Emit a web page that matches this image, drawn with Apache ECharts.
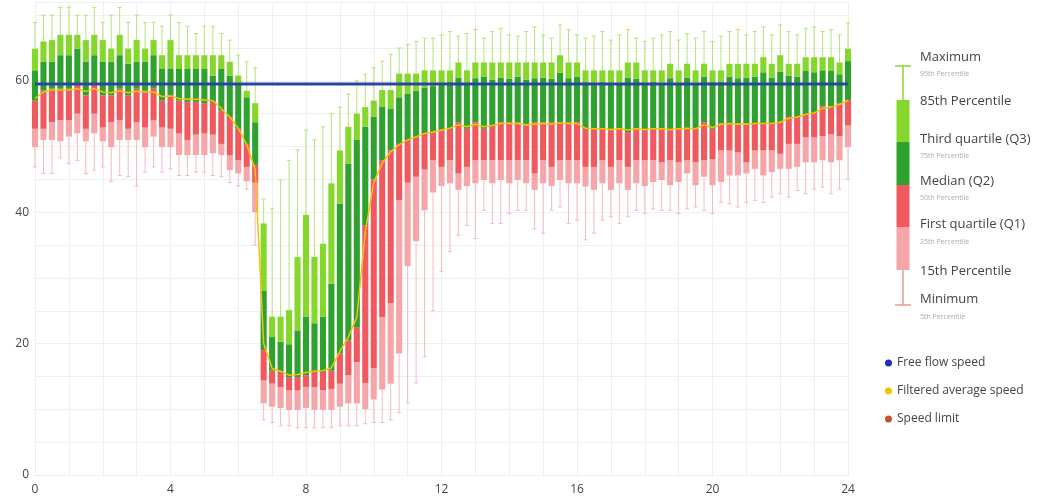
<!DOCTYPE html>
<html>
<head>
<meta charset="utf-8">
<script src="https://cdn.jsdelivr.net/npm/echarts@6/dist/echarts.min.js"></script>
<style>
html,body{margin:0;padding:0;background:#fff;}
#chart{width:1048px;height:501px;}
</style>
</head>
<body>
<div id="chart"></div>
<script>
// ---- DATA (15-minute bins, 0:00 .. 24:00) ----
const p5 = [46.9,45.9,45.9,48.3,47.4,47.9,45.9,46.4,46.9,44.7,45.6,45.4,44.0,46.1,46.9,46.1,46.6,45.6,45.6,46.1,46.1,45.6,45.4,44.5,44.0,43.5,35.0,
  8.4,8.0,7.5,7.5,7.2,7.2,7.2,7.2,7.2,7.5,7.5,7.5,7.8,8.0,8.0,8.4,9.5,11.0,14.0,18.0,25.0,31.0,
  34.0,36.5,38.0,36.0,40.3,38.3,38.3,39.8,40.3,40.3,37.5,36.8,40.3,40.8,38.3,38.8,35.8,36.8,38.8,39.3,38.3,39.3,40.3,39.8,
  40.5,40.3,40.3,39.8,40.5,40.8,40.3,39.8,41.5,41.3,40.8,41.5,41.8,41.5,42.3,42.8,42.3,43.3,42.8,43.5,43.8,42.8,43.5,45.0];
const p15 = [49.9,51.0,51.0,50.8,51.5,52.0,50.8,52.0,50.8,49.9,51.0,51.0,51.0,49.9,51.5,49.9,49.9,48.7,48.7,48.7,48.7,49.0,48.7,46.4,45.9,44.7,40.0,
  10.9,10.4,10.2,9.9,9.9,10.2,9.9,9.9,9.9,10.4,10.9,10.9,10.0,11.5,13.0,13.9,18.5,31.8,35.6,40.3,43.0,44.0,
  44.4,43.4,44.0,44.4,44.9,44.4,44.9,44.4,44.9,44.4,43.4,44.4,44.0,44.9,44.4,44.4,43.9,43.4,44.4,43.4,44.4,43.4,44.4,44.0,
  44.6,44.9,44.1,44.6,45.9,44.1,45.4,44.1,44.6,45.6,45.6,45.9,46.6,45.6,46.1,46.6,46.6,46.9,47.6,47.6,47.9,47.6,47.9,49.9];
const p25 = [52.7,52.7,53.7,54.0,54.0,55.0,52.7,55.0,52.9,53.7,54.0,52.7,53.7,52.9,54.0,52.9,52.7,52.0,51.0,51.8,52.0,51.8,50.4,48.7,47.9,46.9,44.5,
  14.4,13.9,13.4,12.9,12.9,13.4,13.4,12.9,13.1,13.9,15.2,17.2,14.0,16.3,24.0,26.2,41.8,44.5,45.4,46.5,47.9,46.9,
  47.9,45.9,46.9,47.9,47.9,47.9,47.9,47.9,47.9,47.9,45.9,47.9,46.9,47.9,47.9,47.9,46.9,46.9,47.9,46.9,47.9,46.9,47.9,47.9,
  47.9,47.6,47.9,47.6,47.9,47.6,47.9,48.1,49.4,49.4,49.1,47.6,49.4,49.4,49.4,48.9,50.4,50.4,51.4,51.4,51.6,51.9,51.6,53.2];
const p50 = [57.0,58.5,58.8,58.8,58.8,59.6,57.8,59.6,57.8,57.8,58.8,57.8,58.8,58.5,58.8,57.0,57.8,57.0,56.8,56.8,56.6,56.8,55.5,54.5,52.7,50.4,47.2,
  19.0,15.9,15.7,14.9,14.9,15.2,15.7,15.7,15.9,18.5,20.5,22.5,38.0,45.0,47.9,49.4,50.4,51.0,51.4,52.0,52.2,52.5,
  52.7,53.7,52.7,53.7,52.7,53.2,53.7,53.7,53.7,53.2,53.7,53.7,53.7,53.7,53.7,53.7,52.7,52.7,52.7,52.5,52.7,52.2,52.7,52.5,
  52.7,52.7,52.5,52.7,52.7,52.7,53.7,52.7,53.5,53.5,53.5,53.5,53.5,53.5,53.5,53.7,54.5,54.5,54.9,55.1,56.1,56.1,56.6,57.1];
const p75 = [61.6,62.9,62.9,63.9,63.9,64.9,62.9,63.9,62.9,62.9,63.9,62.6,62.9,62.9,63.9,61.8,61.8,61.8,61.8,61.8,61.8,60.8,61.8,60.8,59.6,57.5,53.7,
  28.1,21.0,20.3,19.9,22.0,24.1,23.1,24.1,29.1,41.3,47.4,51.0,53.0,54.5,56.1,55.8,57.5,58.0,58.5,59.0,59.2,59.5,
  59.8,60.5,59.6,60.4,60.6,60.2,60.5,60.3,60.6,60.2,60.4,60.5,60.3,61.2,60.4,60.6,59.8,59.6,59.8,59.5,59.7,60.5,60.3,59.6,
  59.8,59.7,60.4,59.6,60.5,59.7,60.6,59.8,59.9,60.6,60.4,60.5,60.6,61.3,60.5,61.4,60.8,60.6,61.5,61.3,61.6,61.5,61.0,63.0];
const p85 = [64.9,66.0,66.2,67.0,67.0,67.0,66.2,67.0,66.2,64.9,67.0,64.9,66.2,64.9,66.2,63.9,66.2,63.9,63.9,63.9,63.9,63.9,63.9,62.9,60.8,58.5,56.6,
  38.3,24.1,24.1,25.1,33.2,39.6,33.2,35.2,44.4,49.4,53.0,55.0,56.0,57.0,58.6,58.6,61.1,61.1,61.1,61.6,61.6,61.6,
  61.6,62.8,61.6,62.8,62.8,62.8,62.8,62.8,62.8,62.8,62.8,62.8,62.8,63.9,62.8,62.8,61.6,61.6,61.6,61.6,61.6,62.8,62.8,61.6,
  61.6,61.6,62.6,61.6,62.6,61.6,62.6,61.6,61.6,62.6,62.6,62.6,62.6,63.6,62.6,63.9,62.6,62.6,63.6,63.6,63.6,63.6,62.8,64.9];
const p95 = [68.9,70.0,70.0,71.2,71.2,70.0,70.0,71.2,68.9,70.0,71.2,68.9,70.0,68.9,68.9,68.3,70.0,68.9,68.3,67.2,68.3,68.3,67.2,66.2,63.9,62.9,62.0,
  42.0,40.6,44.9,47.9,49.5,52.5,51.0,53.0,55.0,56.0,58.0,60.0,61.0,62.0,63.0,64.0,65.0,65.5,66.0,66.5,66.5,67.0,
  67.5,66.8,67.2,67.8,66.5,67.5,68.0,67.0,66.8,67.5,68.2,67.0,66.5,68.5,67.8,67.0,66.5,66.8,67.5,66.2,67.0,67.8,66.5,66.0,
  66.5,67.0,67.5,66.2,67.2,66.5,67.5,66.0,66.8,67.5,67.8,67.0,67.5,68.2,67.0,68.5,67.5,67.0,68.0,68.2,67.5,67.8,67.0,68.8];
const avgSpeed = [57.3,58.3,58.6,58.6,58.6,58.8,58.4,58.8,58.3,58.2,58.5,58.2,58.4,58.3,58.3,57.6,57.7,57.3,57.2,57.2,57.1,57.0,55.8,54.5,52.8,50.3,46.5,
  20.0,16.2,15.8,15.2,15.3,15.6,15.8,15.9,16.3,18.8,21.0,24.0,37.0,44.5,47.5,49.2,50.3,51.0,51.5,52.0,52.2,52.5,
  52.8,53.3,53.0,53.4,53.0,53.2,53.5,53.5,53.5,53.3,53.4,53.5,53.4,53.6,53.5,53.5,52.8,52.7,52.7,52.6,52.7,52.5,52.7,52.6,
  52.7,52.7,52.6,52.7,52.8,52.7,53.3,52.9,53.4,53.5,53.4,53.4,53.5,53.5,53.5,53.7,54.3,54.5,54.9,55.1,55.8,56.0,56.4,57.0];
const freeFlowSpeed = 59.5;
const xTickLabels = ['0','4','8','12','16','20','24'];
const yTickLabels = ['0','20','40','60'];

// hours of day for each 15-minute bin
const hours = p50.map((_, i) => i / 4);

// ---- styles ----
const C = {
  lg: '#86d72b', dg: '#2ea12e', red: '#f05a5e', pink: '#f6a5a8',
  wGreen: '#b3e47a', wPink: '#f4bcbe', blue: '#2846a0', yellow: '#f4c20d', limit: '#c4522b'
};

const boxData = hours.map((h, i) => [h, p5[i], p15[i], p25[i], p50[i], p75[i], p85[i], p95[i]]);

function renderBox(params, api) {
  const x = api.value(0);
  const v = [1,2,3,4,5,6,7].map(k => api.value(k));
  const w = api.size([0.25, 0])[0] * 0.72;
  const cx = api.coord([x, v[0]])[0];
  const Y = val => api.coord([x, val])[1];
  const cap = w * 0.35;
  const rect = (a, b, fill) => ({
    type: 'rect',
    shape: { x: cx - w / 2, y: Y(b), width: w, height: Math.max(0, Y(a) - Y(b)) },
    style: { fill: fill }
  });
  const line = (x1, y1, x2, y2, c) => ({
    type: 'line', shape: { x1, y1, x2, y2 }, style: { stroke: c, lineWidth: 1 }
  });
  return {
    type: 'group',
    children: [
      line(cx, Y(v[0]), cx, Y(v[1]), C.wPink),
      line(cx - cap, Y(v[0]), cx + cap, Y(v[0]), C.wPink),
      line(cx, Y(v[5]), cx, Y(v[6]), C.wGreen),
      line(cx - cap, Y(v[6]), cx + cap, Y(v[6]), C.wGreen),
      rect(v[1], v[2], C.pink),
      rect(v[2], v[3], C.red),
      rect(v[3], v[4], C.dg),
      rect(v[4], v[5], C.lg)
    ]
  };
}

// ---- legend graphic (right side) ----
const LX = 903, txtX = 920;
const font = '"Open Sans", "Noto Sans", sans-serif';
function label(y, t, size, color) {
  return { type: 'text', left: txtX, top: y, style: { text: t, font: size + 'px ' + font, fill: color } };
}
const legendGraphic = [
  { type: 'line', shape: { x1: LX, y1: 66, x2: LX, y2: 100 }, style: { stroke: C.lg, lineWidth: 1.5 } },
  { type: 'line', shape: { x1: LX - 8, y1: 66, x2: LX + 8, y2: 66 }, style: { stroke: C.lg, lineWidth: 1.5 } },
  { type: 'rect', shape: { x: LX - 6.5, y: 100, width: 13, height: 42 }, style: { fill: C.lg } },
  { type: 'rect', shape: { x: LX - 6.5, y: 142, width: 13, height: 43 }, style: { fill: C.dg } },
  { type: 'rect', shape: { x: LX - 6.5, y: 185, width: 13, height: 42 }, style: { fill: C.red } },
  { type: 'rect', shape: { x: LX - 6.5, y: 227, width: 13, height: 43 }, style: { fill: C.pink } },
  { type: 'line', shape: { x1: LX, y1: 270, x2: LX, y2: 305 }, style: { stroke: '#e99a9d', lineWidth: 1.5 } },
  { type: 'line', shape: { x1: LX - 8, y1: 305, x2: LX + 8, y2: 305 }, style: { stroke: '#e99a9d', lineWidth: 1.5 } },
  label(51, 'Maximum', 13, '#444'),
  label(70, '95th Percentile', 7, '#aaa'),
  label(95, '85th Percentile', 13, '#444'),
  label(133, 'Third quartile (Q3)', 13, '#444'),
  label(152, '75th Percentile', 7, '#aaa'),
  label(175, 'Median (Q2)', 13, '#444'),
  label(194, '50th Percentile', 7, '#aaa'),
  label(218, 'First quartile (Q1)', 13, '#444'),
  label(238, '25th Percentile', 7, '#aaa'),
  label(265, '15th Percentile', 13, '#444'),
  label(293, 'Minimum', 13, '#444'),
  label(313, '5th Percentile', 7, '#aaa')
];

const chart = echarts.init(document.getElementById('chart'), null, { renderer: 'canvas' });
chart.setOption({
  animation: false,
  backgroundColor: '#fff',
  textStyle: { fontFamily: font },
  grid: { left: 35, right: 200, top: 2, bottom: 26 },
  xAxis: {
    type: 'value', min: 0, max: 24, interval: 1,
    axisLine: { show: false }, axisTick: { show: false },
    splitLine: { show: true, lineStyle: { color: '#efefef', width: 1 } },
    axisLabel: {
      color: '#444', fontSize: 12, margin: 9,
      formatter: v => xTickLabels.includes(String(v)) ? String(v) : ''
    }
  },
  yAxis: {
    type: 'value', min: 0, max: 72, interval: 5,
    axisLine: { show: false }, axisTick: { show: false },
    splitLine: { show: true, lineStyle: { color: '#efefef', width: 1 } },
    axisLabel: {
      color: '#444', fontSize: 12, margin: 6,
      formatter: v => yTickLabels.includes(String(v)) ? String(v) : ''
    }
  },
  legend: {
    orient: 'vertical', left: 880, top: 351,
    icon: 'circle', itemWidth: 7, itemHeight: 7, itemGap: 14,
    textStyle: { color: '#444', fontSize: 12, lineHeight: 14, fontFamily: font },
    data: ['Free flow speed', 'Filtered average speed', 'Speed limit']
  },
  graphic: legendGraphic,
  series: [
    {
      type: 'custom', name: 'Percentiles', renderItem: renderBox,
      encode: { x: 0, y: [1, 2, 3, 4, 5, 6, 7] },
      data: boxData, z: 2
    },
    {
      type: 'line', name: 'Filtered average speed',
      data: hours.map((h, i) => [h, avgSpeed[i]]),
      showSymbol: false, symbol: 'circle',
      lineStyle: { color: C.yellow, width: 1.5 }, itemStyle: { color: C.yellow }, z: 3
    },
    {
      type: 'line', name: 'Free flow speed',
      data: [[hours[0], freeFlowSpeed], [hours[hours.length - 1], freeFlowSpeed]],
      showSymbol: false, symbol: 'circle',
      lineStyle: { color: C.blue, width: 3 }, itemStyle: { color: '#2030b8' }, z: 4
    },
    {
      type: 'line', name: 'Speed limit', data: [],
      symbol: 'circle', lineStyle: { color: C.limit }, itemStyle: { color: C.limit }
    }
  ]
});
</script>
</body>
</html>
